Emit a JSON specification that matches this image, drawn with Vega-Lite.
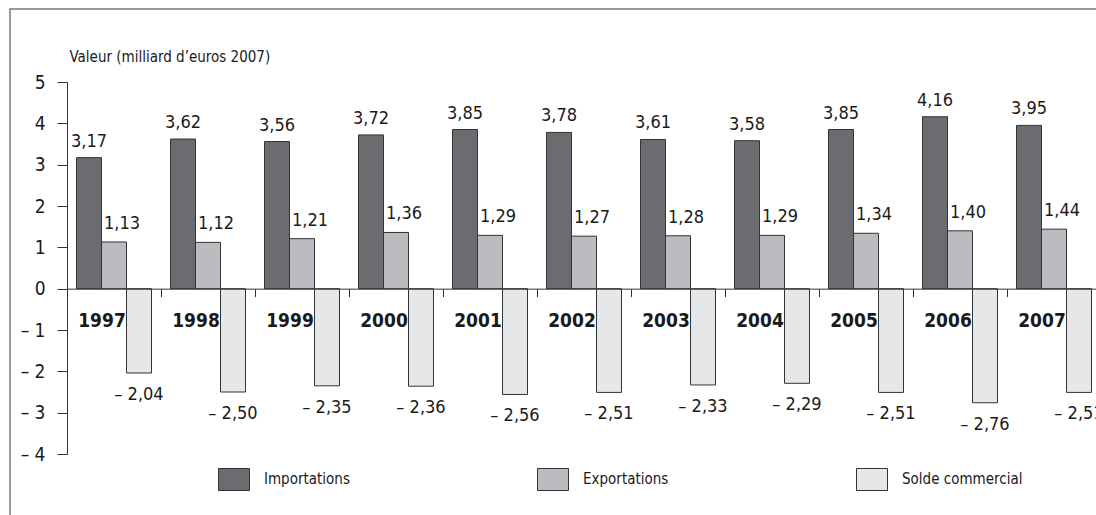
{
  "$schema": "https://vega.github.io/schema/vega-lite/v6.json",
  "width": 1088,
  "height": 508,
  "autosize": "none",
  "padding": {"left": 10, "top": 9, "right": 0, "bottom": 0},
  "background": "white",
  "config": {
    "view": {"stroke": "#7a7a7a", "strokeWidth": 1.5},
    "font": "'DejaVu Sans Condensed', 'Liberation Sans Narrow', 'Roboto Condensed', sans-serif",
    "axis": {"domainColor": "#333", "tickColor": "#333", "labelColor": "#1a1a1a", "titleColor": "#1a1a1a", "grid": false, "domainWidth": 1, "tickWidth": 1}
  },
  "data": {
    "values": [
      {"year": "1997", "type": "Importations", "value": 3.17},
      {"year": "1997", "type": "Exportations", "value": 1.13},
      {"year": "1997", "type": "Solde commercial", "value": -2.04},
      {"year": "1998", "type": "Importations", "value": 3.62},
      {"year": "1998", "type": "Exportations", "value": 1.12},
      {"year": "1998", "type": "Solde commercial", "value": -2.50},
      {"year": "1999", "type": "Importations", "value": 3.56},
      {"year": "1999", "type": "Exportations", "value": 1.21},
      {"year": "1999", "type": "Solde commercial", "value": -2.35},
      {"year": "2000", "type": "Importations", "value": 3.72},
      {"year": "2000", "type": "Exportations", "value": 1.36},
      {"year": "2000", "type": "Solde commercial", "value": -2.36},
      {"year": "2001", "type": "Importations", "value": 3.85},
      {"year": "2001", "type": "Exportations", "value": 1.29},
      {"year": "2001", "type": "Solde commercial", "value": -2.56},
      {"year": "2002", "type": "Importations", "value": 3.78},
      {"year": "2002", "type": "Exportations", "value": 1.27},
      {"year": "2002", "type": "Solde commercial", "value": -2.51},
      {"year": "2003", "type": "Importations", "value": 3.61},
      {"year": "2003", "type": "Exportations", "value": 1.28},
      {"year": "2003", "type": "Solde commercial", "value": -2.33},
      {"year": "2004", "type": "Importations", "value": 3.58},
      {"year": "2004", "type": "Exportations", "value": 1.29},
      {"year": "2004", "type": "Solde commercial", "value": -2.29},
      {"year": "2005", "type": "Importations", "value": 3.85},
      {"year": "2005", "type": "Exportations", "value": 1.34},
      {"year": "2005", "type": "Solde commercial", "value": -2.51},
      {"year": "2006", "type": "Importations", "value": 4.16},
      {"year": "2006", "type": "Exportations", "value": 1.40},
      {"year": "2006", "type": "Solde commercial", "value": -2.76},
      {"year": "2007", "type": "Importations", "value": 3.95},
      {"year": "2007", "type": "Exportations", "value": 1.44},
      {"year": "2007", "type": "Solde commercial", "value": -2.51}
    ]
  },
  "transform": [
    {"calculate": "(datum.value < 0 ? '– ' : '') + replace(format(abs(datum.value), '.2f'), '.', ',')", "as": "label"}
  ],
  "encoding": {
    "x": {
      "field": "year", "type": "nominal",
      "scale": {"range": [57, 1091], "paddingInner": 0, "paddingOuter": 0},
      "axis": {
        "orient": "bottom", "offset": -228.33, "bandPosition": 0, "tickSize": 8, "zindex": 1,
        "labelAlign": "center", "labelOffset": -12, "labelBaseline": "top", "labelPadding": 15,
        "labelFontSize": 19, "labelFontWeight": "bold", "labelAngle": 0, "title": null
      }
    },
    "xOffset": {
      "field": "type", "type": "nominal",
      "sort": ["Importations", "Exportations", "Solde commercial"],
      "scale": {"paddingInner": 0, "paddingOuter": 0.38}
    },
    "y": {
      "field": "value", "type": "quantitative",
      "scale": {"domain": [-4, 5], "range": [445, 73], "nice": false, "zero": false},
      "axis": {
        "values": [-4, -3, -2, -1, 0, 1, 2, 3, 4, 5],
        "offset": -57, "tickSize": 10, "labelPadding": 12, "labelFontSize": 19,
        "labelExpr": "datum.value < 0 ? '– ' + abs(datum.value) : datum.label",
        "title": "Valeur (milliard d’euros 2007)", "titleAngle": 0, "titleX": 2, "titleY": 47,
        "titleAlign": "left", "titleBaseline": "middle", "titleFontSize": 15, "titleFontWeight": "normal"
      }
    }
  },
  "layer": [
    {
      "mark": {"type": "bar", "stroke": "#333", "strokeWidth": 1},
      "encoding": {
        "color": {
          "field": "type", "type": "nominal",
          "scale": {"domain": ["Importations", "Exportations", "Solde commercial"], "range": ["#6b6c70", "#bbbcc0", "#e6e7e9"]},
          "legend": {
            "orient": "none", "legendX": 208, "legendY": 454, "direction": "horizontal", "title": null,
            "symbolType": "M-1,-0.71H1V0.71H-1Z", "symbolSize": 961, "symbolStrokeColor": "#333", "symbolStrokeWidth": 1,
            "symbolOpacity": 1, "labelFontSize": 15, "labelOffset": 14, "columnPadding": 185, "padding": 0, "labelColor": "#1a1a1a"
          }
        }
      }
    },
    {
      "transform": [{"filter": "datum.type === 'Importations'"}],
      "mark": {"type": "text", "baseline": "alphabetic", "dy": -11, "fontSize": 18, "color": "#1a1a1a"},
      "encoding": {"text": {"field": "label"}}
    },
    {
      "transform": [{"filter": "datum.type === 'Exportations'"}],
      "mark": {"type": "text", "baseline": "alphabetic", "dy": -13, "dx": 8, "fontSize": 18, "color": "#1a1a1a"},
      "encoding": {"text": {"field": "label"}}
    },
    {
      "transform": [{"filter": "datum.type === 'Solde commercial'"}],
      "mark": {"type": "text", "baseline": "top", "dy": 13, "fontSize": 18, "color": "#1a1a1a"},
      "encoding": {"text": {"field": "label"}}
    }
  ]
}
